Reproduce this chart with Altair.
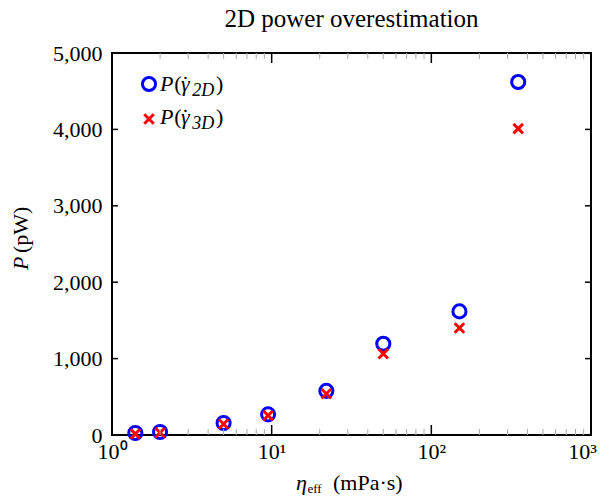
import altair as alt
import pandas as pd

# ---- data ----
eta_eff = [1.4, 2.0, 5.0, 9.5, 22.0, 50.0, 150.0, 350.0]
p_2d = [26, 40, 157, 270, 578, 1195, 1618, 4620]
p_3d = [15, 30, 144, 255, 540, 1064, 1400, 4010]

x_major = [1, 10, 100, 1000]
x_minor = [m * d for d in (1, 10, 100) for m in range(2, 10)]
y_major = [0, 1000, 2000, 3000, 4000, 5000]

W, H = 479, 382
FONT = "Liberation Serif"
BLUE = "#0000ff"
RED = "#ff0000"

xscale = alt.Scale(type="log", domain=[1, 1000], nice=False)
yscale = alt.Scale(domain=[0, 5000], nice=False, zero=True)

xaxis = alt.Axis(values=x_major, ticks=False, domain=False, grid=False,
                 labelExpr="'10' + ['⁰','¹','²','³'][round(log(datum.value)/LN10)]",
                 labelFont=FONT, labelFontSize=22, labelColor="black",
                 labelOffset={"condition": {"test": "datum.value >= 1000", "value": -9}, "value": 0},
                 labelPadding=6, labelFlush=False, labelOverlap=False, title=None)
yaxis = alt.Axis(values=y_major, ticks=False, domain=False, grid=False,
                 labelExpr="format(datum.value, ',')",
                 labelFont=FONT, labelFontSize=22, labelColor="black",
                 labelPadding=10, labelFlush=False, labelOverlap=False, title=None)

df = pd.DataFrame({"eta": eta_eff, "p2": p_2d, "p3": p_3d})
one = pd.DataFrame({"d": [0]})

base = alt.Chart(df)

circles = base.mark_point(shape="circle", filled=False, stroke=BLUE,
                          strokeWidth=3, size=172, opacity=1).encode(
    x=alt.X("eta:Q", scale=xscale, axis=xaxis),
    y=alt.Y("p2:Q", scale=yscale, axis=yaxis),
)

XPATH = "M-1,-1L1,1M-1,1L1,-1"
crosses = base.mark_point(shape=XPATH, filled=False, stroke=RED,
                          strokeWidth=3, size=90, opacity=1).encode(
    x=alt.X("eta:Q", scale=xscale, axis=xaxis),
    y=alt.Y("p3:Q", scale=yscale, axis=yaxis),
)

def xticks(vals, y0, y1, color, sw):
    return alt.Chart(pd.DataFrame({"eta": vals})).mark_rule(color=color, strokeWidth=sw).encode(
        x=alt.X("eta:Q", scale=xscale, axis=xaxis),
        y=alt.value(y0), y2=alt.value(y1))

def yticks(vals, x0, x1):
    return alt.Chart(pd.DataFrame({"p2": vals})).mark_rule(color="black", strokeWidth=1.5).encode(
        y=alt.Y("p2:Q", scale=yscale, axis=yaxis),
        x=alt.value(x0), x2=alt.value(x1))

ticks = [
    xticks(x_minor, H, H - 6, "#aaaaaa", 1),
    xticks(x_minor, 0, 6, "#aaaaaa", 1),
    xticks(x_major, H, H - 10, "black", 1.5),
    xticks(x_major, 0, 10, "black", 1.5),
    yticks(y_major, 0, 6),
    yticks(y_major, W, W - 6),
]

def txt(s, x, y, size=22, style="normal", align="left", angle=0, baseline="alphabetic"):
    return alt.Chart(one).mark_text(text=s, font=FONT, fontSize=size, fontStyle=style,
                                    align=align, baseline=baseline, angle=angle,
                                    color="black").encode(x=alt.value(x), y=alt.value(y))

L1, L2 = 38, 70.5
texts = [
    # title
    txt("2D power overestimation", W / 2, -26, size=25, align="center"),
    # x title
    txt("η", 184, 437, style="italic"),
    txt("eff", 195.5, 440, size=13),
    txt("(mPa·s)", 221, 437),
    # y title
    txt("P", -84, 217, style="italic", angle=270),
    txt("(pW)", -84, 200, angle=270),
    # legend labels
    txt("P", 48, L1, style="italic"),
    txt("(", 62.3, L1),
    txt("γ", 69, L1, style="italic"),
    txt("˙", 73.5, L1, align="center"),
    txt("2D", 80.3, L1 + 5, size=18, style="italic"),
    txt(")", 104, L1),
    txt("P", 48, L2, style="italic"),
    txt("(", 62.3, L2),
    txt("γ", 69, L2, style="italic"),
    txt("˙", 73.5, L2, align="center"),
    txt("3D", 80.3, L2 + 5, size=18, style="italic"),
    txt(")", 104, L2),
]

leg_circle = alt.Chart(one).mark_point(shape="circle", filled=False, stroke=BLUE,
                                       strokeWidth=3, size=172, opacity=1).encode(
    x=alt.value(37), y=alt.value(31))
leg_cross = alt.Chart(one).mark_point(shape=XPATH, filled=False, stroke=RED,
                                      strokeWidth=3, size=90, opacity=1).encode(
    x=alt.value(37), y=alt.value(66))

chart = alt.layer(circles, crosses, *ticks, leg_circle, leg_cross, *texts).properties(
    width=W, height=H,
    autosize=alt.AutoSizeParams(type="none"),
    padding={"left": 104, "top": 45, "right": 6, "bottom": 61},
).configure_view(stroke="black", strokeWidth=2)

chart.save("out.html", embed_options={"renderer": "svg", "actions": False})
